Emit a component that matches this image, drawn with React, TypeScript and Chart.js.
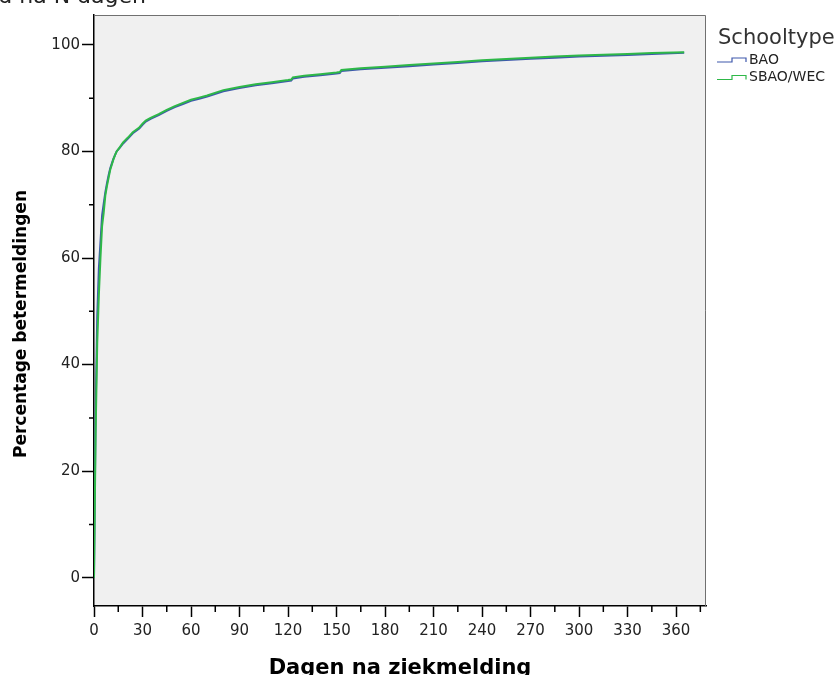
import React, { useEffect, useRef } from "react";
import { Chart, registerables } from "chart.js";

Chart.register(...registerables);

// Days after sick report (x) and cumulative % recovered (y)
const days = [
  0, 1, 2, 3, 4, 5, 6, 7, 8, 9, 10, 11, 12, 13, 14,
  16, 18, 21, 24, 28, 30, 32, 35,
  40, 45, 50, 55, 60, 65, 70,
  80, 90, 100, 110, 120, 122, 123, 130, 140, 150, 152, 153,
  165, 180, 195, 210, 225, 240, 255, 270, 285, 300, 315, 330, 345, 365,
];

const baoValues = [
  0, 31, 49, 58, 63, 68, 70.2, 72.3, 74, 75.5, 76.8, 77.7, 78.6, 79.3, 80,
  80.7, 81.5, 82.4, 83.4, 84.3, 85, 85.6, 86.1,
  86.8, 87.6, 88.3, 88.9, 89.5, 89.9, 90.3,
  91.3, 91.9, 92.4, 92.8, 93.2, 93.3, 93.7, 94.0, 94.3, 94.6, 94.7, 95.1,
  95.4, 95.7, 96.0, 96.3, 96.6, 96.9, 97.15, 97.4, 97.6, 97.8, 97.95, 98.1, 98.3, 98.5,
];

const sbaoValues = [
  0, 27, 44, 53, 60, 66, 68.5, 71.7, 73.5, 75, 76.5, 77.5, 78.5, 79.3, 80,
  80.8, 81.7, 82.6, 83.6, 84.5, 85.2, 85.8, 86.3,
  87, 87.8, 88.5, 89.1, 89.7, 90.1, 90.5,
  91.5, 92.1, 92.6, 93.0, 93.4, 93.5, 93.9, 94.2, 94.5, 94.8, 94.9, 95.3,
  95.6, 95.9, 96.2, 96.5, 96.8, 97.1, 97.35, 97.6, 97.8, 98.0, 98.15, 98.3, 98.45, 98.6,
];

const seriesNames = ["BAO", "SBAO/WEC"];
const seriesColors = ["#3E58AC", "#2EB848"];

const xTickValues = [0, 30, 60, 90, 120, 150, 180, 210, 240, 270, 300, 330, 360];
const xMinorTicks = [15, 45, 75, 105, 135, 165, 195, 225, 255, 285, 315, 345, 375];
const yTickValues = [0, 20, 40, 60, 80, 100];
const yMinorTicks = [10, 30, 50, 70, 90];

const FONT = "'DejaVu Sans', Verdana, sans-serif";

const framePlugin = {
  id: "framePlugin",
  beforeDraw(chart: any) {
    const { ctx, chartArea } = chart;
    ctx.save();
    ctx.fillStyle = "#f0f0f0";
    ctx.fillRect(chartArea.left, chartArea.top, chartArea.right - chartArea.left, chartArea.bottom - chartArea.top);
    ctx.restore();
  },
  afterDraw(chart: any) {
    const { ctx, chartArea, scales } = chart;
    ctx.save();
    // top & right frame
    ctx.strokeStyle = "#707070";
    ctx.lineWidth = 1;
    ctx.beginPath();
    ctx.moveTo(chartArea.left, chartArea.top + 0.5);
    ctx.lineTo(chartArea.right - 0.5, chartArea.top + 0.5);
    ctx.lineTo(chartArea.right - 0.5, chartArea.bottom);
    ctx.stroke();

    // minor ticks
    ctx.strokeStyle = "#000";
    ctx.lineWidth = 1.5;
    ctx.beginPath();
    for (const v of yMinorTicks) {
      const y = scales.y.getPixelForValue(v);
      ctx.moveTo(chartArea.left - 5, y);
      ctx.lineTo(chartArea.left, y);
    }
    for (const v of xMinorTicks) {
      const x = scales.x.getPixelForValue(v);
      ctx.moveTo(x, chartArea.bottom);
      ctx.lineTo(x, chartArea.bottom + 6);
    }
    ctx.stroke();

    // cut-off title at top
    ctx.fillStyle = "#222";
    ctx.font = `22px ${FONT}`;
    ctx.textAlign = "right";
    ctx.textBaseline = "alphabetic";
    ctx.fillText("Percentage hersteld na N dagen", 146, 3);

    // axis titles
    ctx.font = `bold 17px ${FONT}`;
    ctx.fillStyle = "#000";
    ctx.save();
    ctx.translate(22, 324);
    ctx.rotate(-Math.PI / 2);
    ctx.textAlign = "center";
    ctx.textBaseline = "middle";
    ctx.fillText("Percentage betermeldingen", 0, 0);
    ctx.restore();

    ctx.font = `bold 21px ${FONT}`;
    ctx.textAlign = "center";
    ctx.textBaseline = "alphabetic";
    ctx.fillText("Dagen na ziekmelding", 400, 674);

    // legend
    ctx.fillStyle = "#333";
    ctx.font = `21px ${FONT}`;
    ctx.textAlign = "left";
    ctx.fillText("Schooltype", 718, 44);
    ctx.font = `14px ${FONT}`;
    ctx.textBaseline = "middle";
    seriesNames.forEach((name, i) => {
      const base = 62 + i * 17.5;
      ctx.strokeStyle = seriesColors[i];
      ctx.lineWidth = 1.2;
      ctx.beginPath();
      ctx.moveTo(717, base);
      ctx.lineTo(732, base);
      ctx.lineTo(732, base - 4);
      ctx.lineTo(746, base - 4);
      ctx.lineTo(746, base);
      ctx.stroke();
      ctx.fillStyle = "#222";
      ctx.fillText(name, 749, base - 2);
    });
    ctx.restore();
  },
};

export default function App() {
  const ref = useRef<HTMLCanvasElement | null>(null);

  useEffect(() => {
    document.body.style.margin = "0";
    if (!ref.current) return;
    const seriesValues = [baoValues, sbaoValues];
    const chart = new Chart(ref.current, {
      type: "line",
      data: {
        datasets: seriesNames.map((name, i) => ({
          label: name,
          data: days.map((d, j) => ({ x: d, y: seriesValues[i][j] })),
          borderColor: seriesColors[i],
          borderWidth: 2,
          pointRadius: 0,
          tension: 0,
          fill: false,
          order: i === 0 ? 2 : 1,
        })),
      },
      options: {
        animation: false,
        responsive: true,
        maintainAspectRatio: false,
        layout: { padding: { left: 0, top: 15, right: 132, bottom: 0 } },
        plugins: {
          legend: { display: false },
          tooltip: { enabled: false },
          title: { display: false },
        },
        scales: {
          x: {
            type: "linear",
            min: 0,
            max: 378.5,
            afterFit: (s: any) => {
              s.height = 69;
            },
            afterBuildTicks: (s: any) => {
              s.ticks = xTickValues.map((v) => ({ value: v }));
            },
            grid: {
              drawOnChartArea: false,
              drawTicks: true,
              tickLength: 11,
              tickColor: "#000",
              tickWidth: 1.5,
            },
            border: { display: true, color: "#000", width: 1.5 },
            ticks: {
              color: "#222",
              font: { family: FONT, size: 15 },
              padding: 5,
              maxRotation: 0,
              autoSkip: false,
            },
          },
          y: {
            type: "linear",
            min: -5.3,
            max: 105.6,
            afterFit: (s: any) => {
              s.width = 94;
            },
            afterBuildTicks: (s: any) => {
              s.ticks = yTickValues.map((v) => ({ value: v }));
            },
            grid: {
              drawOnChartArea: false,
              drawTicks: true,
              tickLength: 12,
              tickColor: "#000",
              tickWidth: 1.5,
            },
            border: { display: true, color: "#000", width: 1.5 },
            ticks: {
              color: "#222",
              font: { family: FONT, size: 15 },
              padding: 2,
              autoSkip: false,
            },
          },
        },
      },
      plugins: [framePlugin],
    });
    return () => chart.destroy();
  }, []);

  return (
    <div style={{ position: "fixed", left: 0, top: 0, width: 838, height: 675, background: "#fff" }}>
      <canvas ref={ref} />
    </div>
  );
}
